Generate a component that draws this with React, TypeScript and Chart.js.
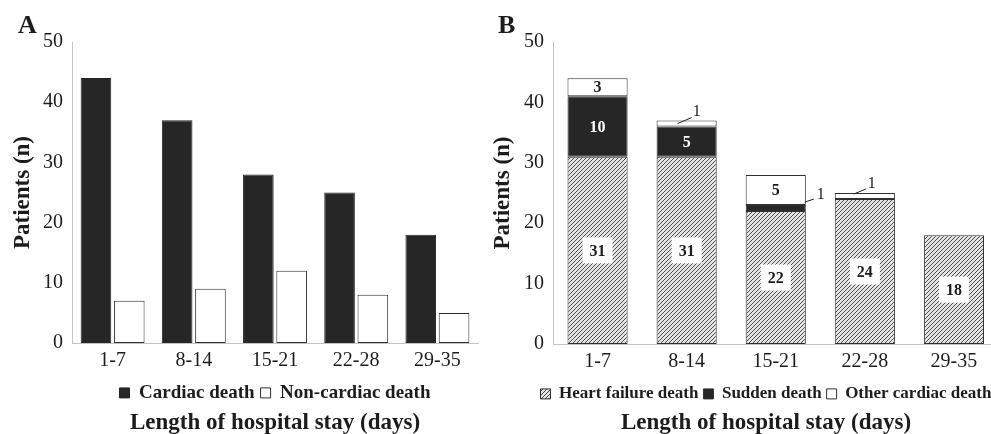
import React, { useEffect, useRef } from "react";
import { Chart, registerables } from "chart.js";

Chart.register(...registerables);

// ---------- data ----------
const categories = ["1-7", "8-14", "15-21", "22-28", "29-35"];
const yTicks = [0, 10, 20, 30, 40, 50];

// Panel A
const cardiacDeath = [44, 37, 28, 25, 18];
const nonCardiacDeath = [7, 9, 12, 8, 5];

// Panel B (stacked)
const heartFailureDeath = [31, 31, 22, 24, 18];
const suddenDeath = [10, 5, 1, 0, 0];
const otherCardiacDeath = [3, 1, 5, 1, 0];

// ---------- style ----------
const SERIF = "'Liberation Serif', 'Times New Roman', serif";
const DARK = "#262626";
const EDGE = "#303030";
const AXIS = "#c4c4c4";
const TEXT = "#1c1c1c";

// callout (leader line) offsets for value-1 segments, relative to bar centre / segment middle
const callouts: Record<string, { sx: number; sy: number; ex: number; ey: number; lx: number; ly: number }> = {
  "2-1": { sx: -9, sy: 0, ex: 5, ey: -6, lx: 10, ly: -12 },
  "1-2": { sx: 29, sy: -6, ex: 38, ey: -9, lx: 45, ly: -13 },
  "2-3": { sx: -11, sy: -2, ex: 1, ey: -7, lx: 7, ly: -12 },
};

function makeHatch(ctx: CanvasRenderingContext2D) {
  const c = document.createElement("canvas");
  c.width = 4;
  c.height = 4;
  const x = c.getContext("2d")!;
  x.fillStyle = "#e4e4e4";
  x.fillRect(0, 0, 4, 4);
  x.strokeStyle = "#4d4d4d";
  x.lineWidth = 1;
  x.beginPath();
  x.moveTo(0, 4);
  x.lineTo(4, 0);
  x.moveTo(-1, 1);
  x.lineTo(1, -1);
  x.moveTo(3, 5);
  x.lineTo(5, 3);
  x.stroke();
  return ctx.createPattern(c, "repeat")!;
}

const panelLetter = {
  id: "panelLetter",
  afterDraw(chart: any, _args: any, opts: any) {
    const ctx = chart.ctx;
    ctx.save();
    ctx.font = `bold 26px ${SERIF}`;
    ctx.fillStyle = TEXT;
    ctx.textBaseline = "alphabetic";
    ctx.textAlign = "left";
    ctx.fillText(opts.text, opts.x, opts.y);
    ctx.restore();
  },
};

const segLabels = {
  id: "segLabels",
  afterDatasetsDraw(chart: any) {
    const ctx = chart.ctx;
    ctx.save();
    ctx.textAlign = "center";
    ctx.textBaseline = "middle";
    chart.data.datasets.forEach((ds: any, di: number) => {
      const meta = chart.getDatasetMeta(di);
      meta.data.forEach((bar: any, i: number) => {
        const v = ds.data[i];
        if (!v) return;
        const { x, y, base } = bar.getProps(["x", "y", "base"], true);
        const cy = (y + base) / 2;
        if (v === 1) {
          const c = callouts[`${di}-${i}`];
          if (!c) return;
          ctx.strokeStyle = "#222";
          ctx.lineWidth = 1;
          ctx.beginPath();
          ctx.moveTo(x + c.sx, cy + c.sy);
          ctx.lineTo(x + c.ex, cy + c.ey);
          ctx.stroke();
          ctx.font = `16px ${SERIF}`;
          ctx.fillStyle = TEXT;
          ctx.fillText(String(v), x + c.lx, cy + c.ly);
          return;
        }
        ctx.font = `bold 16px ${SERIF}`;
        if (di === 0) {
          ctx.fillStyle = "#ffffff";
          ctx.fillRect(x - 15, cy - 13, 30, 26);
          ctx.fillStyle = TEXT;
        } else if (di === 1) {
          ctx.fillStyle = "#ffffff";
        } else {
          ctx.fillStyle = TEXT;
        }
        ctx.fillText(String(v), x, cy + 1);
      });
    });
    ctx.restore();
  },
};

function axes(stacked: boolean, leftW: number, rightW: number, xH: number) {
  return {
    x: {
      stacked,
      afterFit: (s: any) => {
        s.height = xH;
      },
      grid: { display: false, drawTicks: false },
      border: { display: true, color: AXIS, width: 1 },
      ticks: { color: TEXT, font: { family: SERIF, size: 20 }, padding: 6 },
    },
    y: {
      stacked,
      min: 0,
      max: 50,
      afterBuildTicks: (s: any) => {
        s.ticks = yTicks.map((v) => ({ value: v }));
      },
      afterFit: (s: any) => {
        s.width = leftW;
      },
      grid: { display: false, drawTicks: false },
      border: { display: true, color: AXIS, width: 1 },
      ticks: { color: TEXT, font: { family: SERIF, size: 20 }, padding: 9 },
      title: {
        display: true,
        text: "Patients (n)",
        color: TEXT,
        font: { family: SERIF, size: 23, weight: "bold" },
        padding: { top: 9, bottom: 0 },
      },
    },
    spacer: {
      position: "right",
      display: true,
      afterFit: (s: any) => {
        s.width = rightW;
      },
      grid: { display: false, drawTicks: false },
      border: { display: false },
      ticks: { display: false },
    },
  };
}

function commonPlugins(letter: string, legendSize: number, legendPad: number) {
  return {
    legend: {
      position: "bottom" as const,
      labels: {
        color: TEXT,
        font: { family: SERIF, size: legendSize, weight: "bold" },
        boxWidth: 10,
        boxHeight: 10,
        padding: legendPad,
      },
    },
    title: {
      display: true,
      position: "bottom" as const,
      text: "Length of hospital stay (days)",
      color: TEXT,
      font: { family: SERIF, size: 23, weight: "bold" },
      padding: { top: -3, bottom: -3 },
    },
    tooltip: { enabled: false },
    panelLetter: { text: letter, x: 18, y: 33 },
  };
}

export default function App() {
  const refA = useRef<HTMLCanvasElement>(null);
  const refB = useRef<HTMLCanvasElement>(null);

  useEffect(() => {
    const ctxA = refA.current!.getContext("2d")!;
    const chartA = new Chart(ctxA, {
      type: "bar",
      data: {
        labels: categories,
        datasets: [
          {
            label: "Cardiac death",
            data: cardiacDeath,
            backgroundColor: DARK,
            borderColor: DARK,
            borderWidth: 1,
            borderSkipped: false,
            categoryPercentage: 0.82,
            barPercentage: 0.92,
          },
          {
            label: "Non-cardiac death",
            data: nonCardiacDeath,
            backgroundColor: "#ffffff",
            borderColor: EDGE,
            borderWidth: 1,
            borderSkipped: false,
            categoryPercentage: 0.82,
            barPercentage: 0.92,
          },
        ],
      },
      options: {
        responsive: false,
        animation: false,
        layout: { padding: { left: 0, right: 0, top: 42, bottom: 0 } },
        scales: axes(false, 72, 72, 34.4) as any,
        plugins: commonPlugins("A", 19, 6) as any,
      },
      plugins: [panelLetter],
    });

    const ctxB = refB.current!.getContext("2d")!;
    const hatch = makeHatch(ctxB);
    const nz = (arr: number[]) => arr.map((v) => (v === 0 ? null : v));
    const chartB = new Chart(ctxB, {
      type: "bar",
      data: {
        labels: categories,
        datasets: [
          {
            label: "Heart failure death",
            data: nz(heartFailureDeath),
            backgroundColor: hatch,
            borderColor: EDGE,
            borderWidth: 1,
            borderSkipped: false,
            categoryPercentage: 0.675,
            barPercentage: 1,
          },
          {
            label: "Sudden death",
            data: nz(suddenDeath),
            backgroundColor: DARK,
            borderColor: EDGE,
            borderWidth: 1,
            borderSkipped: false,
            categoryPercentage: 0.675,
            barPercentage: 1,
          },
          {
            label: "Other cardiac death",
            data: nz(otherCardiacDeath),
            backgroundColor: "#ffffff",
            borderColor: EDGE,
            borderWidth: 1,
            borderSkipped: false,
            categoryPercentage: 0.675,
            barPercentage: 1,
          },
        ],
      },
      options: {
        responsive: false,
        animation: false,
        layout: { padding: { left: 0, right: 0, top: 42, bottom: 0 } },
        scales: axes(true, 73, 53.5, 36.4) as any,
        plugins: commonPlugins("B", 17, 5) as any,
      },
      plugins: [panelLetter, segLabels],
    });

    return () => {
      chartA.destroy();
      chartB.destroy();
    };
  }, []);

  return (
    <div
      style={{
        position: "fixed",
        left: 0,
        top: 0,
        width: 991,
        height: 434,
        overflow: "hidden",
        background: "#ffffff",
      }}
    >
      <canvas
        ref={refA}
        width={550}
        height={434}
        style={{ position: "absolute", left: 0, top: 0, width: 550, height: 434 }}
      />
      <canvas
        ref={refB}
        width={572}
        height={434}
        style={{ position: "absolute", left: 480, top: 0, width: 572, height: 434 }}
      />
    </div>
  );
}
